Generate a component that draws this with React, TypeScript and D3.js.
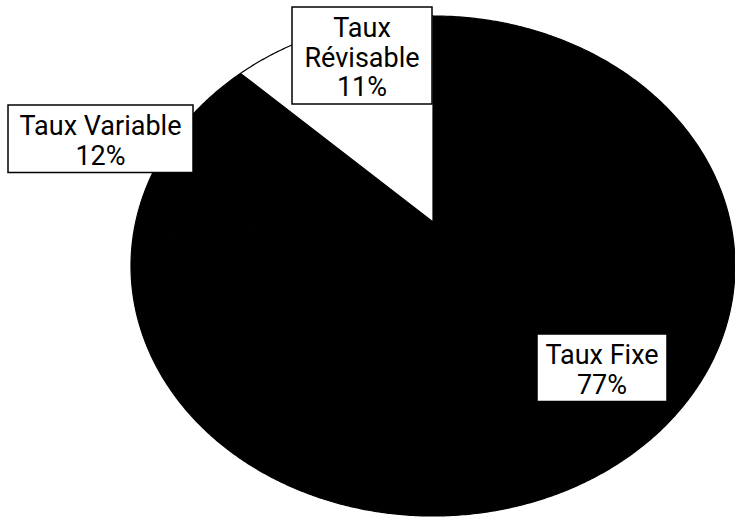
import React from "react";
import * as d3 from "d3";

const categories = ["Taux Fixe", "Taux Variable", "Taux Révisable"];
const values = [77, 12, 11];
const labelLines = [["Taux Fixe", "77%"], ["Taux Variable", "12%"], ["Taux", "Révisable", "11%"]];

const W = 735;
const H = 521;
// ellipse geometry (scanned, slightly off-centre apex)
const CX = 433, CY = 266, RX = 302, RY = 250;
const APEX: [number, number] = [433, 222];
const fills = ["#000000", "#000000", "#ffffff"];
// label box layout: centre x, top y, width
const labelBoxes = [
  { cx: 602, top: 334, w: 130 },
  { cx: 100.5, top: 105, w: 185 },
  { cx: 362, top: 7, w: 140 },
];
const LINE_H = 29.5;

function boundary(a: number): [number, number] {
  return [CX + RX * Math.sin(a), CY - RY * Math.cos(a)];
}

export default function App() {
  const pie = d3.pie<number>().sort(null).value((d) => d);
  const arcs = pie(values);
  const line = d3.line<[number, number]>();
  const paths = arcs.map((a) => {
    const pts: [number, number][] = [APEX];
    const n = Math.max(2, Math.ceil(((a.endAngle - a.startAngle) * 180) / Math.PI / 0.5));
    for (let i = 0; i <= n; i++) {
      pts.push(boundary(a.startAngle + ((a.endAngle - a.startAngle) * i) / n));
    }
    return line(pts) + "Z";
  });

  return (
    <svg
      width={W}
      height={H}
      viewBox={`0 0 ${W} ${H}`}
      style={{ position: "absolute", left: 0, top: 0, background: "#fff" }}
    >
      <rect x={0} y={0} width={W} height={H} fill="#fff" />
      {paths.map((p, i) => (
        <path
          key={categories[i]}
          d={p}
          fill={fills[i]}
          stroke="#000"
          strokeWidth={1.2}
          strokeLinejoin="round"
        />
      ))}
      {labelLines.map((lines, i) => {
        const b = labelBoxes[i];
        const h = 30 + (lines.length - 1) * LINE_H + 8;
        return (
          <g key={categories[i]}>
            <rect
              x={b.cx - b.w / 2}
              y={b.top}
              width={b.w}
              height={h}
              fill="#fff"
              stroke="#000"
              strokeWidth={1.5}
            />
            {lines.map((t, j) => (
              <text
                key={j}
                x={b.cx}
                y={b.top + 30 + j * LINE_H}
                textAnchor="middle"
                fontFamily="Roboto, 'DejaVu Sans', sans-serif"
                fontSize={27}
                fill="#000"
              >
                {t}
              </text>
            ))}
          </g>
        );
      })}
    </svg>
  );
}
